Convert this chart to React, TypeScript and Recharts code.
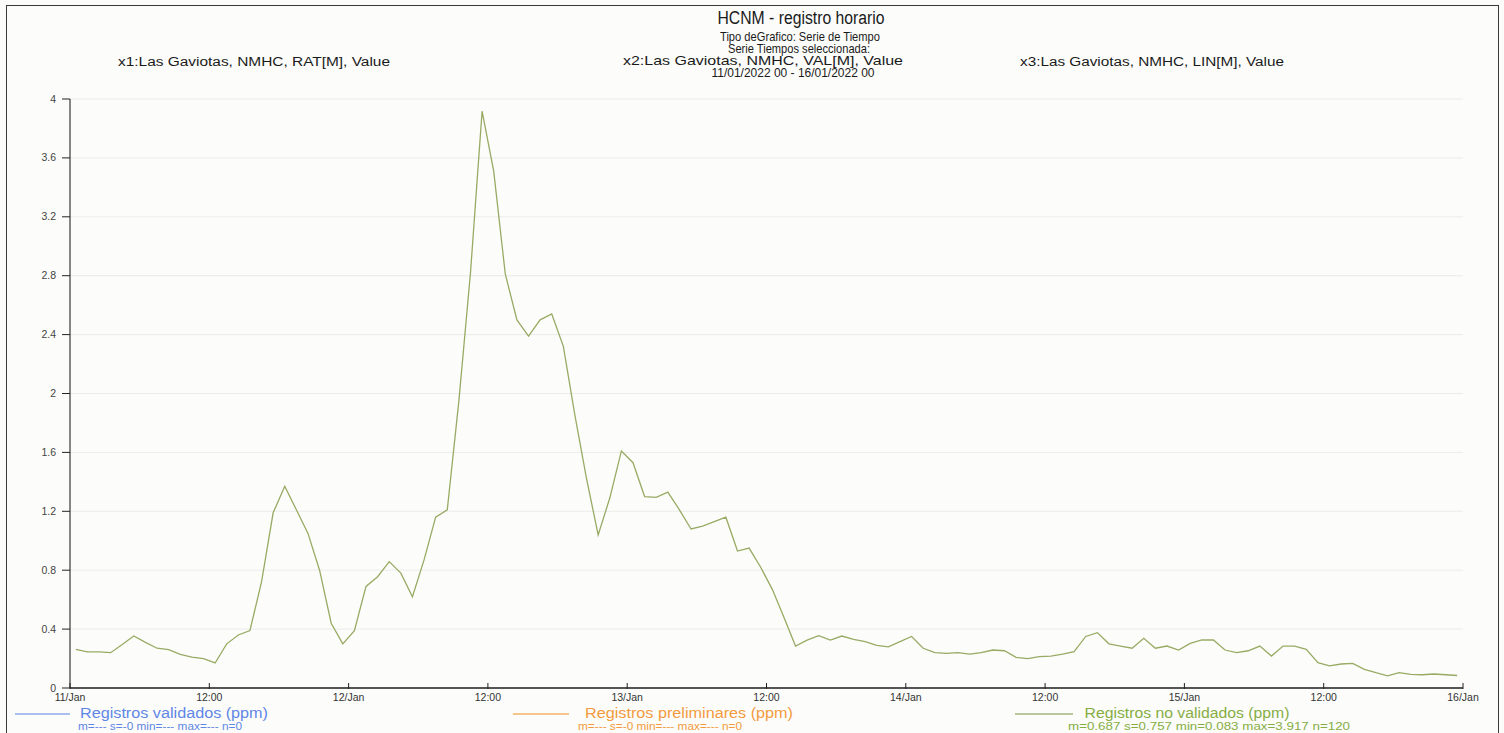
import React from "react";
import { LineChart, Line, XAxis, YAxis, CartesianGrid } from "recharts";

const titleText = "HCNM - registro horario";
const headerLines = [
  "Tipo deGrafico: Serie de Tiempo",
  "Serie Tiempos seleccionada:",
];
const seriesLabelX1 = "x1:Las Gaviotas, NMHC, RAT[M], Value";
const seriesLabelX2 = "x2:Las Gaviotas, NMHC, VAL[M], Value";
const seriesLabelX3 = "x3:Las Gaviotas, NMHC, LIN[M], Value";
const periodText = "11/01/2022 00 - 16/01/2022 00";

const legendNames = [
  "Registros validados (ppm)",
  "Registros preliminares (ppm)",
  "Registros no validados (ppm)",
];
const legendStats = [
  "m=--- s=-0 min=--- max=--- n=0",
  "m=--- s=-0 min=--- max=--- n=0",
  "m=0.687 s=0.757 min=0.083 max=3.917 n=120",
];
const legendLineColors = ["#a9bff0", "#f7c48c", "#b9c79f"];
const legendTextColors = ["#5f86e6", "#f39a3e", "#86ad45"];

// hourly NMHC values (ppm), 11/01/2022 00 -> 15/01/2022 23
const noValidados = [
  0.263, 0.245, 0.245, 0.24, 0.295, 0.353, 0.31, 0.27, 0.26, 0.228, 0.21, 0.2,
  0.17, 0.3, 0.36, 0.39, 0.72, 1.19, 1.37, 1.21, 1.05, 0.8, 0.44, 0.3,
  0.39, 0.69, 0.756, 0.858, 0.78, 0.62, 0.87, 1.16, 1.21, 1.95, 2.82, 3.917,
  3.51, 2.81, 2.5, 2.39, 2.5, 2.54, 2.32, 1.85, 1.42, 1.04, 1.29, 1.61,
  1.53, 1.3, 1.295, 1.33, 1.21, 1.08, 1.1, 1.13, 1.16, 0.93, 0.95, 0.82,
  0.67, 0.48, 0.285, 0.325, 0.355, 0.326, 0.353, 0.33, 0.315, 0.29, 0.28, 0.315,
  0.35, 0.27, 0.24, 0.235, 0.24, 0.23, 0.24, 0.258, 0.253, 0.208, 0.2, 0.213,
  0.217, 0.23, 0.247, 0.35, 0.376, 0.3, 0.285, 0.27, 0.337, 0.27, 0.285, 0.258,
  0.303, 0.326, 0.326, 0.258, 0.24, 0.253, 0.285, 0.217, 0.285, 0.285, 0.262, 0.172,
  0.15, 0.163, 0.167, 0.127, 0.104, 0.083, 0.104, 0.093, 0.09, 0.095, 0.09, 0.085,
];

const xTicks = [0, 12, 24, 36, 48, 60, 72, 84, 96, 108, 120];
const xTickLabels = [
  "11/Jan", "12:00", "12/Jan", "12:00", "13/Jan", "12:00",
  "14/Jan", "12:00", "15/Jan", "12:00", "16/Jan",
];
const yTicks = [0, 0.4, 0.8, 1.2, 1.6, 2, 2.4, 2.8, 3.2, 3.6, 4];
const yTickLabels = ["0", "0.4", "0.8", "1.2", "1.6", "2", "2.4", "2.8", "3.2", "3.6", "4"];

const data = noValidados.map((v, i) => ({ hour: i + 0.5, value: v }));

const FONT = "'Liberation Sans', Arial, Helvetica, sans-serif";
const W = 1504;
const H = 733;

const XTick = (props: any) => {
  const { x, y, payload } = props;
  const idx = xTicks.indexOf(payload.value);
  const label = idx >= 0 ? xTickLabels[idx] : "";
  return (
    <g>
      <line x1={x} x2={x} y1={y - 5} y2={y + 1} stroke="#222" strokeWidth={1} />
      <text x={x} y={y + 13} textAnchor="middle" fontSize={10.5} fill="#333" fontFamily={FONT}>
        {label}
      </text>
    </g>
  );
};

const YTick = (props: any) => {
  const { x, y, payload } = props;
  const idx = yTicks.indexOf(payload.value);
  const label = idx >= 0 ? yTickLabels[idx] : "";
  return (
    <text x={x} y={y + 3.5} textAnchor="end" fontSize={10.5} fill="#444" fontFamily={FONT}>
      {label}
    </text>
  );
};

const T = (p: { x: number; y: number; w: number; size: number; fill?: string; children: string }) => (
  <text
    x={p.x}
    y={p.y}
    textAnchor="middle"
    fontSize={p.size}
    fill={p.fill ?? "#1a1a1a"}
    fontFamily={FONT}
    textLength={p.w}
    lengthAdjust="spacingAndGlyphs"
  >
    {p.children}
  </text>
);

const legendX = [
  { line: [15, 70], text: 174, textW: 188, stat: 160, statW: 164 },
  { line: [513, 569], text: 689, textW: 208, stat: 660, statW: 164 },
  { line: [1015, 1073], text: 1187, textW: 205, stat: 1209, statW: 282 },
];

export default function App() {
  return (
    <div
      style={{
        position: "absolute",
        left: 0,
        top: 0,
        width: W,
        height: H,
        background: "#fcfdfa",
        overflow: "hidden",
      }}
    >
      <div
        style={{
          position: "absolute",
          left: 6,
          top: 5,
          width: 1493,
          height: 760,
          border: "1px solid #3a3a3a",
          boxSizing: "border-box",
        }}
      />
      <div style={{ position: "absolute", left: 0, top: 0 }}>
        <LineChart
          width={W}
          height={H}
          data={data}
          margin={{ top: 99, right: 41, bottom: 15, left: 10 }}
        >
          <CartesianGrid vertical={false} stroke="#ebebeb" strokeWidth={1} />
          <XAxis
            dataKey="hour"
            type="number"
            domain={[0, 120]}
            ticks={xTicks}
            interval={0}
            height={30}
            tickSize={0}
            tickMargin={0}
            tickLine={false}
            axisLine={{ stroke: "#555", strokeWidth: 2 }}
            tick={<XTick />}
            allowDataOverflow
          />
          <YAxis
            type="number"
            domain={[0, 4]}
            ticks={yTicks}
            interval={0}
            width={60}
            tickSize={8}
            tickMargin={6}
            tickLine={{ stroke: "#222" }}
            axisLine={{ stroke: "#111", strokeWidth: 1 }}
            tick={<YTick />}
            allowDataOverflow
          />
          <Line
            type="linear"
            dataKey="value"
            stroke="#98aa64"
            strokeWidth={1.3}
            dot={false}
            isAnimationActive={false}
          />
        </LineChart>
      </div>
      <svg
        width={W}
        height={H}
        style={{ position: "absolute", left: 0, top: 0, pointerEvents: "none" }}
      >
        <T x={801} y={24} w={167} size={18}>{titleText}</T>
        <T x={800} y={41} w={160} size={13}>{headerLines[0]}</T>
        <T x={799} y={53} w={142} size={13}>{headerLines[1]}</T>
        <T x={254} y={66} w={272} size={12.5}>{seriesLabelX1}</T>
        <T x={763} y={65} w={280} size={13}>{seriesLabelX2}</T>
        <T x={1152} y={66} w={264} size={12.5}>{seriesLabelX3}</T>
        <T x={793} y={77} w={163} size={13}>{periodText}</T>
        {legendX.map((l, i) => (
          <g key={i}>
            <line
              x1={l.line[0]}
              x2={l.line[1]}
              y1={714}
              y2={714}
              stroke={legendLineColors[i]}
              strokeWidth={2}
            />
            <T x={l.text} y={718} w={l.textW} size={14} fill={legendTextColors[i]}>
              {legendNames[i]}
            </T>
            <T x={l.stat} y={730} w={l.statW} size={10.5} fill={legendTextColors[i]}>
              {legendStats[i]}
            </T>
          </g>
        ))}
      </svg>
    </div>
  );
}
